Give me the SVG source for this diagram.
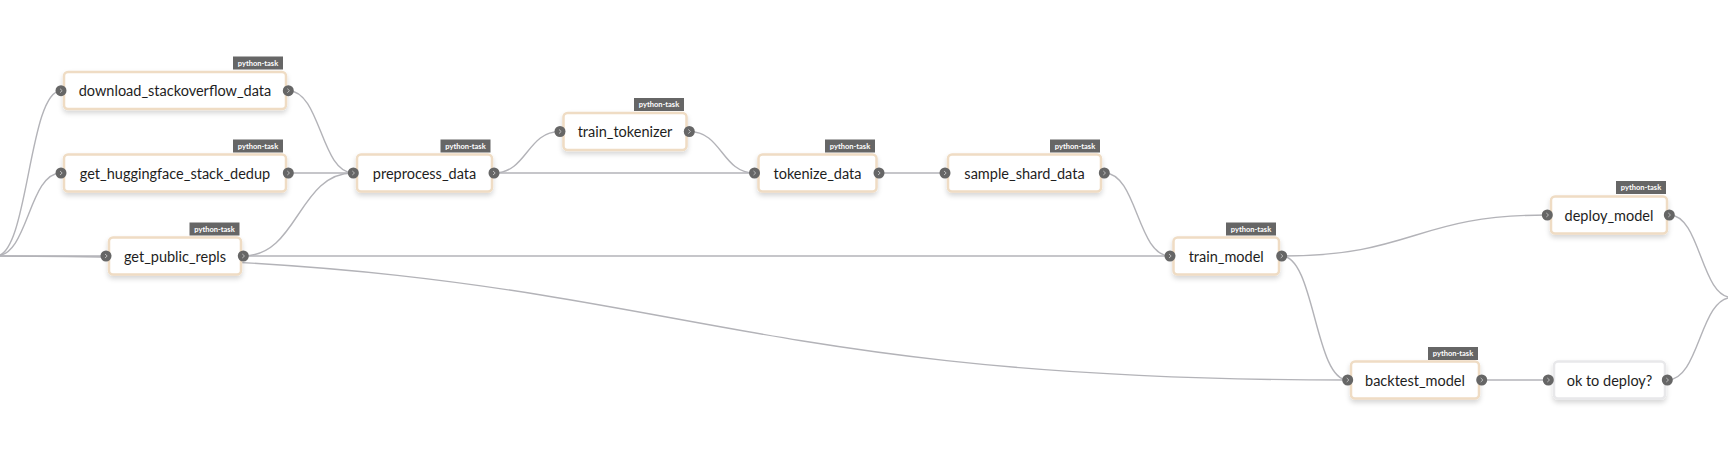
<svg xmlns="http://www.w3.org/2000/svg" width="1728" height="462" viewBox="0 0 1728 462">
  <defs>
    <filter id="sh" x="-20%" y="-30%" width="140%" height="180%">
      <feDropShadow dx="0" dy="3" stdDeviation="2.5" flood-color="#000" flood-opacity="0.16"/>
    </filter>
    <g id="port">
      <circle r="5.5" fill="#666"/>
      <path d="M-1,-2 L1.2,0 L-1,2" fill="none" stroke="#bbb" stroke-width="1"/>
    </g>
  </defs>
  <style>
    .edge{fill:none;stroke:#b3b3b8;stroke-width:1.4}
    .box{fill:#fff;stroke:#efdcc4;stroke-width:2.5;filter:url(#sh)}
    .box.plain{stroke:#e8e8ea}
    .tag{fill:#666}
    .tagt{font-family:Lato,"Liberation Sans",sans-serif;font-size:7.5px;font-weight:bold;fill:#fff;text-anchor:middle}
    .lbl{font-family:Lato,"Liberation Sans",sans-serif;font-size:14.5px;fill:#1e1e1e;text-anchor:middle;dominant-baseline:central}
  </style>
  <rect width="1728" height="462" fill="#fff"/>

  <g id="connectors">
    <path class="edge" d="M-4,256 C28.5,256 28.5,90.7 61,90.7"/>
    <path class="edge" d="M-4,256 C28.5,256 28.5,173 61,173"/>
    <path class="edge" d="M-4,256 L106,256"/>
    <path class="edge" d="M-4,256 C672,256 672,380 1347.7,380"/>
    <path class="edge" d="M288.3,90.7 C320.8,90.7 320.8,173 353.3,173"/>
    <path class="edge" d="M288.3,173 L353.3,173"/>
    <path class="edge" d="M243.3,256 C298.3,256 298.3,173 353.3,173"/>
    <path class="edge" d="M494,173 C527,173 527,131.5 560,131.5"/>
    <path class="edge" d="M494,173 L754.5,173"/>
    <path class="edge" d="M689.3,131.5 C721.9,131.5 721.9,173 754.5,173"/>
    <path class="edge" d="M879,173 L945,173"/>
    <path class="edge" d="M1104.3,173 C1137.2,173 1137.2,256 1170,256"/>
    <path class="edge" d="M243.3,256 L1170,256"/>
    <path class="edge" d="M1281.7,256 C1414.5,256 1414.5,215 1547.3,215"/>
    <path class="edge" d="M1281.7,256 C1314.7,256 1314.7,380 1347.7,380"/>
    <path class="edge" d="M1481.7,380 L1548.3,380"/>
    <path class="edge" d="M1669.3,215 C1700.7,215 1700.7,297.5 1732,297.5"/>
    <path class="edge" d="M1667.3,380 C1699.7,380 1699.7,297.5 1732,297.5"/>
  </g>

  <g id="download_stackoverflow_data">
    <rect class="box" x="64" y="72" width="222" height="37" rx="4"/>
    <rect class="tag" x="233" y="56.5" width="50" height="13"/>
    <text class="tagt" x="258" y="65.5">python-task</text>
    <text class="lbl" x="175" y="90.7">download_stackoverflow_data</text>
    <use href="#port" x="61" y="90.7"/>
    <use href="#port" x="288.3" y="90.7"/>
  </g>

  <g id="get_huggingface_stack_dedup">
    <rect class="box" x="64" y="154.5" width="222" height="37" rx="4"/>
    <rect class="tag" x="233" y="139.5" width="50" height="13"/>
    <text class="tagt" x="258" y="148.5">python-task</text>
    <text class="lbl" x="175" y="173">get_huggingface_stack_dedup</text>
    <use href="#port" x="61" y="173"/>
    <use href="#port" x="288.3" y="173"/>
  </g>

  <g id="get_public_repls">
    <rect class="box" x="109" y="237.5" width="132" height="37" rx="4"/>
    <rect class="tag" x="189.5" y="222.5" width="50" height="13"/>
    <text class="tagt" x="214.5" y="231.5">python-task</text>
    <text class="lbl" x="175" y="256">get_public_repls</text>
    <use href="#port" x="106" y="256"/>
    <use href="#port" x="243.3" y="256"/>
  </g>

  <g id="preprocess_data">
    <rect class="box" x="357" y="154.5" width="135" height="37" rx="4"/>
    <rect class="tag" x="440.5" y="139.5" width="50" height="13"/>
    <text class="tagt" x="465.5" y="148.5">python-task</text>
    <text class="lbl" x="424.5" y="173">preprocess_data</text>
    <use href="#port" x="353.3" y="173"/>
    <use href="#port" x="494" y="173"/>
  </g>

  <g id="train_tokenizer">
    <rect class="box" x="563.5" y="113" width="123" height="37" rx="4"/>
    <rect class="tag" x="634" y="98" width="50" height="13"/>
    <text class="tagt" x="659" y="107">python-task</text>
    <text class="lbl" x="625" y="131.5">train_tokenizer</text>
    <use href="#port" x="560" y="131.5"/>
    <use href="#port" x="689.3" y="131.5"/>
  </g>

  <g id="tokenize_data">
    <rect class="box" x="758.5" y="154.5" width="118" height="37" rx="4"/>
    <rect class="tag" x="825" y="139.5" width="50" height="13"/>
    <text class="tagt" x="850" y="148.5">python-task</text>
    <text class="lbl" x="817.5" y="173">tokenize_data</text>
    <use href="#port" x="754.5" y="173"/>
    <use href="#port" x="879" y="173"/>
  </g>

  <g id="sample_shard_data">
    <rect class="box" x="948" y="154.5" width="153" height="37" rx="4"/>
    <rect class="tag" x="1050" y="139.5" width="50" height="13"/>
    <text class="tagt" x="1075" y="148.5">python-task</text>
    <text class="lbl" x="1024.5" y="173">sample_shard_data</text>
    <use href="#port" x="945" y="173"/>
    <use href="#port" x="1104.3" y="173"/>
  </g>

  <g id="train_model">
    <rect class="box" x="1173.5" y="237.5" width="105.5" height="37" rx="4"/>
    <rect class="tag" x="1226" y="222.5" width="50" height="13"/>
    <text class="tagt" x="1251" y="231.5">python-task</text>
    <text class="lbl" x="1226.2" y="256">train_model</text>
    <use href="#port" x="1170" y="256"/>
    <use href="#port" x="1281.7" y="256"/>
  </g>

  <g id="deploy_model">
    <rect class="box" x="1551" y="196.5" width="116" height="37" rx="4"/>
    <rect class="tag" x="1616" y="181" width="50" height="13"/>
    <text class="tagt" x="1641" y="190">python-task</text>
    <text class="lbl" x="1609" y="215">deploy_model</text>
    <use href="#port" x="1547.3" y="215"/>
    <use href="#port" x="1669.3" y="215"/>
  </g>

  <g id="backtest_model">
    <rect class="box" x="1351" y="361.5" width="128" height="37" rx="4"/>
    <rect class="tag" x="1428" y="347" width="50" height="13"/>
    <text class="tagt" x="1453" y="356">python-task</text>
    <text class="lbl" x="1415" y="380">backtest_model</text>
    <use href="#port" x="1347.7" y="380"/>
    <use href="#port" x="1481.7" y="380"/>
  </g>

  <g id="ok_to_deploy">
    <rect class="box plain" x="1554" y="361.5" width="111" height="37" rx="4"/>
    <text class="lbl" x="1609.5" y="380">ok to deploy?</text>
    <use href="#port" x="1548.3" y="380"/>
    <use href="#port" x="1667.3" y="380"/>
  </g>
</svg>
